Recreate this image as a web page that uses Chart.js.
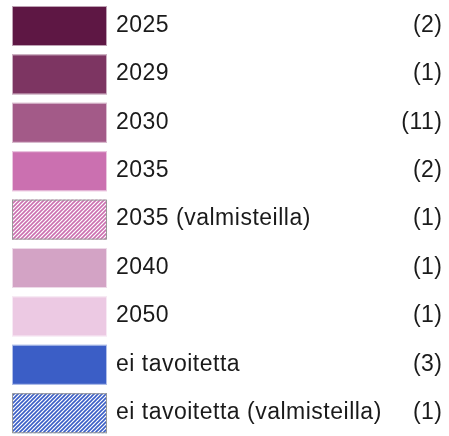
<!DOCTYPE html>
<html>
<head>
<meta charset="utf-8">
<script src="https://cdn.jsdelivr.net/npm/chart.js@4"></script>
<style>
  html, body { margin: 0; padding: 0; background: #fff; }
  #wrap { width: 449px; height: 436px; }
</style>
</head>
<body>
<div id="wrap"><canvas id="legend-chart"></canvas></div>
<script>
// legend data
const labels = ['2025', '2029', '2030', '2035', '2035 (valmisteilla)', '2040', '2050', 'ei tavoitetta', 'ei tavoitetta (valmisteilla)'];
const counts = [2, 1, 11, 2, 1, 1, 1, 3, 1];
const colors = ['#5e1744', '#7d3562', '#a35a88', '#cb70b0', '#cb70b0', '#d3a3c5', '#ecc9e3', '#3b5ec6', '#3b5ec6'];
const hatched = [false, false, false, false, true, false, false, false, true];

function makeHatch(color) {
    const c = document.createElement('canvas');
    c.width = 4;
    c.height = 4;
    const g = c.getContext('2d');
    g.fillStyle = '#ffffff';
    g.fillRect(0, 0, 4, 4);
    g.strokeStyle = color;
    g.lineWidth = 1.6;
    g.beginPath();
    g.moveTo(-1, 5); g.lineTo(5, -1);
    g.moveTo(-1, 1); g.lineTo(1, -1);
    g.moveTo(3, 5); g.lineTo(5, 3);
    g.stroke();
    return g.createPattern(c, 'repeat');
}

const legendTable = {
    id: 'legendTable',
    beforeDatasetsDraw() {
        return false;
    },
    afterDraw(chart) {
        const ctx = chart.ctx;
        const ds = chart.data.datasets[0];
        const rowH = 48.4;
        ctx.save();
        ctx.font = '23px "Liberation Sans", Arial, sans-serif';
        ctx.letterSpacing = '0.5px';
        ctx.textBaseline = 'middle';
        chart.data.labels.forEach((label, i) => {
            const top = 6 + i * rowH;
            const fill = hatched[i] ? makeHatch(ds.backgroundColor[i]) : ds.backgroundColor[i];
            ctx.fillStyle = fill;
            ctx.fillRect(12, top, 95, 40);
            ctx.lineWidth = 1;
            ctx.strokeStyle = hatched[i] ? '#9a9a9a' : 'rgba(255,255,255,0.6)';
            ctx.strokeRect(12.5, top + 0.5, 94, 39);
            ctx.fillStyle = '#1a1a1a';
            ctx.textAlign = 'left';
            ctx.fillText(label, 116, top + 19.5);
            ctx.textAlign = 'right';
            ctx.fillText('(' + ds.data[i] + ')', 442.5, top + 19.5);
        });
        ctx.restore();
    }
};

new Chart(document.getElementById('legend-chart'), {
    type: 'doughnut',
    data: {
        labels: labels,
        datasets: [{
            data: counts,
            backgroundColor: colors
        }]
    },
    options: {
        responsive: true,
        maintainAspectRatio: false,
        animation: false,
        events: [],
        plugins: {
            legend: { display: false },
            tooltip: { enabled: false }
        }
    },
    plugins: [legendTable]
});
</script>
</body>
</html>
